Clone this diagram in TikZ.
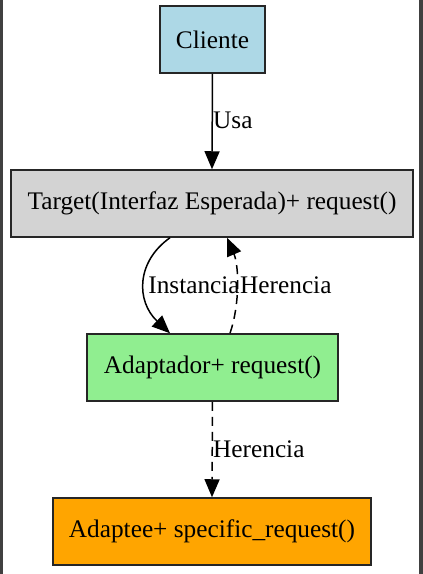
\documentclass[tikz,border=0pt]{standalone}
\usepackage{fontspec}
\setmainfont{Liberation Serif}
\usetikzlibrary{arrows.meta}

\begin{document}
\begin{tikzpicture}[x=1pt, y=-1pt,
  clase/.style={draw=black!85, line width=1.5pt, minimum height=67pt, inner sep=0pt, align=center, font=\fontsize{25.3}{30}\selectfont},
  flecha/.style={-{Triangle[length=18pt, width=15pt]}, line width=1.5pt, black},
  hereda/.style={flecha, dash pattern=on 9pt off 6pt},
  etiqueta/.style={inner sep=0pt, font=\fontsize{25.3}{30}\selectfont}]
\useasboundingbox (0,0) rectangle (423,574);
\fill[black!75] (0,0) rectangle (3,574);
\fill[black!75] (419,0) rectangle (423,574);
\node[clase, fill={rgb,255:red,173;green,216;blue,230}, minimum width=105pt] (cliente) at (212.5,39.5) {Cliente};
\node[clase, fill={rgb,255:red,211;green,211;blue,211}, minimum width=402pt] (target) at (212,203.5) {Target(Interfaz Esperada)+ request()};
\node[clase, fill={rgb,255:red,144;green,238;blue,144}, minimum width=251pt] (adaptador) at (212.5,367.5) {Adaptador+ request()};
\node[clase, fill={rgb,255:red,255;green,165;blue,0}, minimum width=318pt] (adaptee) at (212,531.5) {Adaptee+ specific\_request()};
\draw[flecha] (cliente.south) -- (target.north);
\node[etiqueta, anchor=west] (usa) at (213,120) {Usa};
\draw[flecha] ([xshift=-42pt]target.south) .. controls +(-34,24) and +(-34,-32) .. ([xshift=-42.5pt]adaptador.north);
\node[etiqueta] (instancia) at (194,285) {Instancia};
\draw[hereda] ([xshift=17.5pt]adaptador.north) .. controls +(10,-29) and +(12,28) .. ([xshift=15pt]target.south);
\node[etiqueta, anchor=west] (herencia1) at (240,285) {Herencia};
\draw[hereda] (adaptador.south) -- (adaptee.north);
\node[etiqueta, anchor=west] (herencia2) at (213,449) {Herencia};
\end{tikzpicture}
\end{document}
